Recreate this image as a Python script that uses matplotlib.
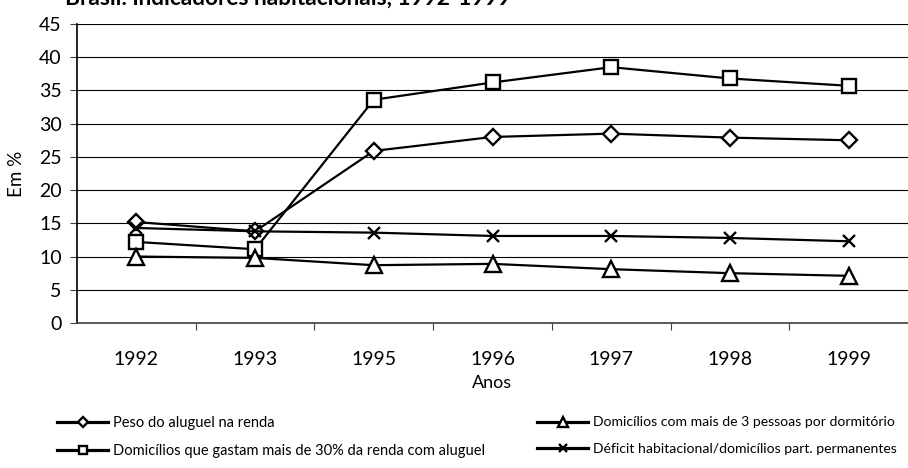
import matplotlib
matplotlib.use("Agg")
import matplotlib.pyplot as plt

plt.rcParams["font.family"] = ["Lato", "DejaVu Sans"]

anos = ["1992", "1993", "1995", "1996", "1997", "1998", "1999"]
peso_aluguel = [15.2, 13.8, 25.9, 28.0, 28.5, 27.9, 27.5]
gasto_30 = [12.2, 11.1, 33.6, 36.2, 38.5, 36.8, 35.7]
mais_3_pessoas = [10.0, 9.8, 8.7, 8.9, 8.1, 7.5, 7.1]
deficit = [14.3, 13.8, 13.6, 13.1, 13.1, 12.8, 12.3]

nomes = [
    "Peso do aluguel na renda",
    "Domicílios que gastam mais de 30% da renda com aluguel",
    "Domicílios com mais de 3 pessoas por dormitório",
    "Déficit habitacional/domicílios part. permanentes",
]

fig = plt.figure(figsize=(9.08, 4.68), dpi=100)
ax = fig.add_axes([77 / 908, 1 - 323 / 468, 1 - 77 / 908, 299 / 468])

x = list(range(len(anos)))
estilo = dict(color="black", lw=1.6, mfc="white", mec="black", mew=1.7)
l1, = ax.plot(x, peso_aluguel, marker="D", ms=8, label=nomes[0], **estilo)
l2, = ax.plot(x, gasto_30, marker="s", ms=9.5, label=nomes[1], **estilo)
l3, = ax.plot(x, mais_3_pessoas, marker="^", ms=11, label=nomes[2], **estilo)
l4, = ax.plot(x, deficit, marker="x", ms=9, label=nomes[3], color="black", lw=1.6, mew=1.7)

ax.set_xlim(-0.5, len(anos) - 0.5)
ax.set_ylim(0, 45)
ax.set_yticks(range(0, 46, 5))
ax.yaxis.grid(True, color="black", lw=0.8)
ax.set_axisbelow(True)
ax.set_xticks(x)
ax.set_xticklabels(anos, fontsize=14)
ax.set_xticks([i + 0.5 for i in x[:-1]], minor=True)
ax.tick_params(axis="x", which="major", length=0, pad=20)
ax.tick_params(axis="x", which="minor", length=5, width=0.8, color="#404040")
ax.tick_params(axis="y", length=5, width=0.8, labelsize=14, pad=6, color="#404040")

for s in ["top", "right"]:
    ax.spines[s].set_visible(False)
ax.spines["left"].set_linewidth(1.2)
ax.spines["bottom"].set_linewidth(1.2)
ax.spines["bottom"].set_color("#404040")

ax.set_xlabel("Anos", fontsize=13, labelpad=5)
ax.set_ylabel("Em %", fontsize=13.5, labelpad=10)

# título cortado no topo, como no original
fig.text(65 / 908, 1 - 4.5 / 468, "Brasil: indicadores habitacionais, 1992-1999",
         fontsize=16.3, fontweight="bold", va="baseline", ha="left")

# duas colunas de legenda posicionadas separadamente
opts = dict(loc="upper left", frameon=False, markerscale=0.6,
            handletextpad=0.35, borderaxespad=0, borderpad=0)
lg1 = fig.legend([l1, l2], nomes[:2], bbox_to_anchor=(57 / 908, 1 - 416 / 468),
                 fontsize=10.5, handlelength=3.5, labelspacing=0.95, **opts)
lg2 = fig.legend([l3, l4], nomes[2:], bbox_to_anchor=(537 / 908, 1 - 416.5 / 468),
                 fontsize=10.1, handlelength=3.64, labelspacing=1.05, **opts)
for lg in (lg1, lg2):
    for h in lg.legend_handles:
        h.set_linewidth(2.3)

fig.savefig("out.png", dpi=100)
